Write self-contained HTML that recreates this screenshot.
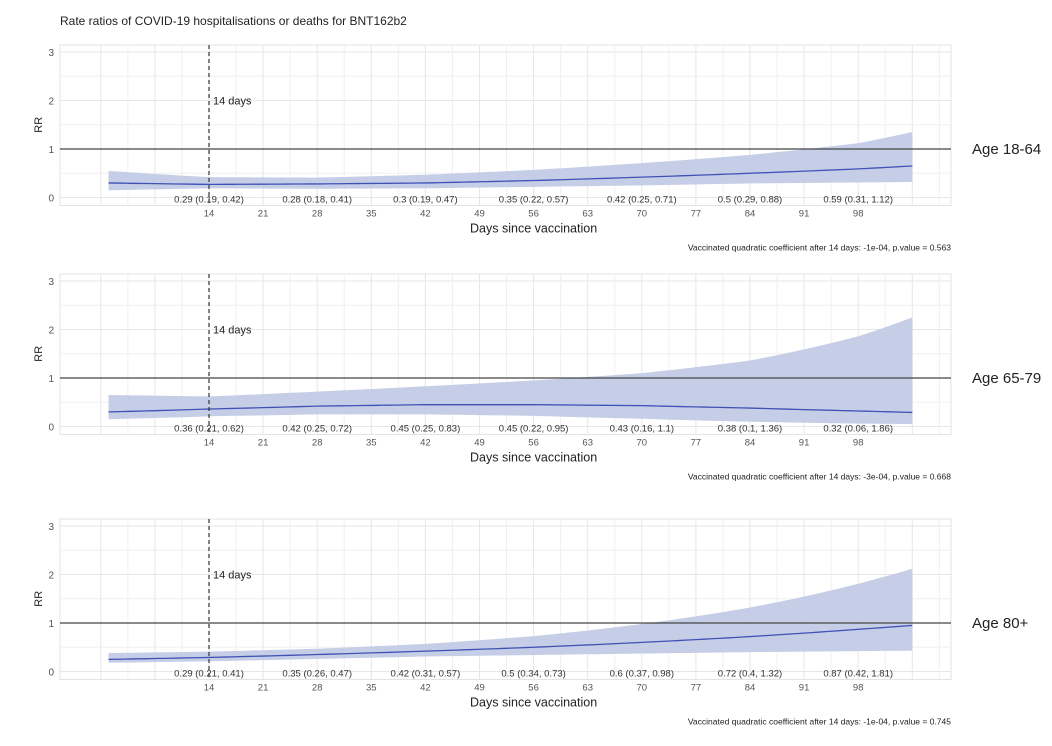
<!DOCTYPE html>
<html><head><meta charset="utf-8"><style>
body{margin:0;background:#fff;}
svg{display:block;font-family:"Liberation Sans",sans-serif;}
</style></head><body>
<svg id="s" width="1052" height="746" xmlns="http://www.w3.org/2000/svg">
<text x="60" y="25" font-size="12" fill="#222">Rate ratios of COVID-19 hospitalisations or deaths for BNT162b2</text>
</svg>
<script>
const S=document.getElementById('s');const NS='http://www.w3.org/2000/svg';
function el(t,a,txt){const e=document.createElementNS(NS,t);for(const k in a)e.setAttribute(k,a[k]);if(txt!==undefined)e.textContent=txt;S.appendChild(e);return e;}
const L=60,R=951;const X=d=>209+(d-14)*54.1/7;
const panels=[
{T:52,age:"Age 18-64",note:"Vaccinated quadratic coefficient after 14 days: -1e-04, p.value = 0.563",
pts:[[1,.3,.15,.55],[14,.27,.19,.42],[28,.28,.18,.41],[42,.3,.19,.47],[56,.35,.22,.57],[70,.42,.25,.71],[84,.5,.29,.88],[98,.59,.31,1.12],[105,.65,.32,1.35]],
labs:["0.29 (0.19, 0.42)","0.28 (0.18, 0.41)","0.3 (0.19, 0.47)","0.35 (0.22, 0.57)","0.42 (0.25, 0.71)","0.5 (0.29, 0.88)","0.59 (0.31, 1.12)"]},
{T:281,age:"Age 65-79",note:"Vaccinated quadratic coefficient after 14 days: -3e-04, p.value = 0.668",
pts:[[1,.3,.15,.65],[14,.36,.21,.62],[28,.42,.25,.72],[42,.45,.25,.83],[56,.45,.22,.95],[70,.43,.16,1.1],[84,.38,.1,1.36],[98,.32,.06,1.86],[105,.29,.05,2.25]],
labs:["0.36 (0.21, 0.62)","0.42 (0.25, 0.72)","0.45 (0.25, 0.83)","0.45 (0.22, 0.95)","0.43 (0.16, 1.1)","0.38 (0.1, 1.36)","0.32 (0.06, 1.86)"]},
{T:526,age:"Age 80+",note:"Vaccinated quadratic coefficient after 14 days: -1e-04, p.value = 0.745",
pts:[[1,.25,.18,.38],[14,.29,.21,.41],[28,.35,.26,.47],[42,.42,.31,.57],[56,.5,.34,.73],[70,.6,.37,.98],[84,.72,.4,1.32],[98,.87,.42,1.81],[105,.95,.43,2.12]],
labs:["0.29 (0.21, 0.41)","0.35 (0.26, 0.47)","0.42 (0.31, 0.57)","0.5 (0.34, 0.73)","0.6 (0.37, 0.98)","0.72 (0.4, 1.32)","0.87 (0.42, 1.81)"]}];
function interp(pts,d,i){for(let k=0;k<pts.length-1;k++){const a=pts[k],b=pts[k+1];if(d<=b[0]){const t=(d-a[0])/(b[0]-a[0]);
// smooth via cosine-ish blend in log space
const la=Math.log(a[i]),lb=Math.log(b[i]);return Math.exp(la+(lb-la)*t);}}return pts[pts.length-1][i];}
panels.forEach(p=>{const T=p.T,U=48.5,Y=v=>T+(3-v)*U,top=T-7,bot=Y(0)+8;
el('rect',{x:L,y:top,width:R-L,height:bot-top,fill:'#fff',stroke:'#e3e3e3'});
for(let v=0.5;v<3.2;v+=1)el('line',{x1:L,x2:R,y1:Y(v),y2:Y(v),stroke:'#f0f0f0'});
for(let v=0;v<=3;v++)el('line',{x1:L,x2:R,y1:Y(v),y2:Y(v),stroke:'#e6e6e6'});
for(let d=0;d<=112;d+=3.5){const x=X(d);if(x<L||x>R)continue;el('line',{x1:x,x2:x,y1:top,y2:bot,stroke:(d%7==0)?'#e6e6e6':'#f0f0f0'});}
for(let v=0;v<=3;v++)el('text',{x:54,y:Y(v)+4,'font-size':10,fill:'#555','text-anchor':'end'},String(v));
el('text',{x:0,y:0,'font-size':11,fill:'#222','text-anchor':'middle',transform:`translate(42,${Y(1.5)}) rotate(-90)`},'RR');
let up=[],lo=[],md=[];for(let d=1;d<=105;d+=1){const x=X(d);up.push(x+','+Y(interp(p.pts,d,3)));lo.push(x+','+Y(interp(p.pts,d,2)));md.push(x+','+Y(interp(p.pts,d,1)));}
el('polygon',{points:up.concat(lo.reverse()).join(' '),fill:'#c3cbe6',opacity:.95});
el('polyline',{points:md.join(' '),fill:'none',stroke:'#3f51b5','stroke-width':1.3});
el('line',{x1:L,x2:R,y1:Y(1),y2:Y(1),stroke:'#444','stroke-width':1.2});
el('line',{x1:X(14),x2:X(14),y1:top,y2:bot,stroke:'#333','stroke-width':1.2,'stroke-dasharray':'4,3'});
el('text',{x:X(14)+4,y:Y(2)+4,'font-size':11,fill:'#222'},'14 days');
p.labs.forEach((t,k)=>el('text',{x:X(14+14*k),y:Y(0)+5,'font-size':9.5,fill:'#333','text-anchor':'middle'},t));
for(let d=14;d<=98;d+=7)el('text',{x:X(d),y:bot+11,'font-size':9.5,fill:'#555','text-anchor':'middle'},String(d));
el('text',{x:X(56),y:bot+27,'font-size':12.5,fill:'#222','text-anchor':'middle'},'Days since vaccination');
el('text',{x:R,y:bot+45,'font-size':8.5,fill:'#222','text-anchor':'end'},p.note);
el('text',{x:972,y:Y(1)+5,'font-size':15,fill:'#222'},p.age);
});
</script>
</body></html>
